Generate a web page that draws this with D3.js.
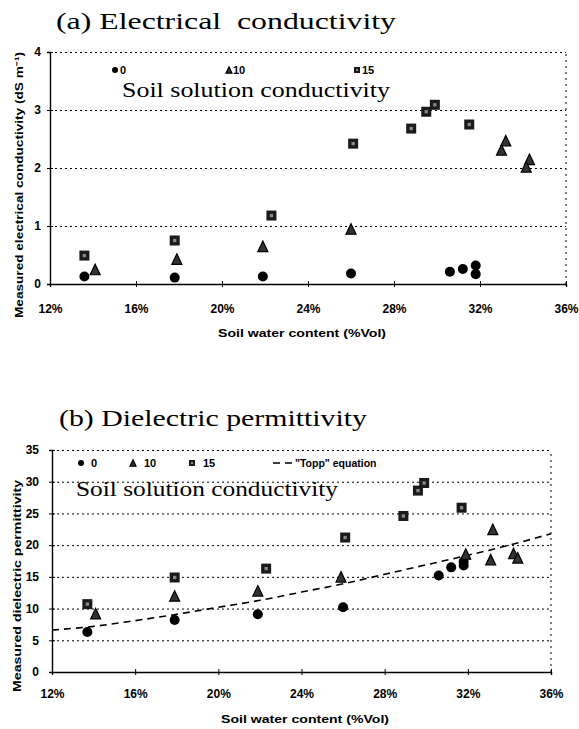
<!DOCTYPE html>
<html><head><meta charset="utf-8">
<script src="https://cdn.jsdelivr.net/npm/d3@7"></script>
<style>body{margin:0;background:#fff}</style>
</head><body>
<svg id="c" width="579" height="729" xmlns="http://www.w3.org/2000/svg"></svg>
<script>
// ---------- DATA ----------
const xTicks = [12, 16, 20, 24, 28, 32, 36];
const ecTicks = [0, 1, 2, 3, 4];
const epTicks = [0, 5, 10, 15, 20, 25, 30, 35];
const seriesNames = ["0", "10", "15"];

// (a) electrical conductivity
const ecX0 = [13.6, 17.8, 21.9, 26.0, 30.6, 31.2, 31.8, 31.8];
const ecY0 = [0.13, 0.11, 0.13, 0.18, 0.21, 0.26, 0.32, 0.17];
const ecX10 = [14.1, 17.9, 21.9, 26.0, 33.2, 33.0, 34.3, 34.15];
const ecY10 = [0.25, 0.43, 0.65, 0.95, 2.47, 2.31, 2.15, 2.02];
const ecX15 = [13.6, 17.8, 22.3, 26.1, 28.8, 29.5, 29.9, 31.5];
const ecY15 = [0.49, 0.75, 1.18, 2.42, 2.68, 2.97, 3.09, 2.75];

// (b) dielectric permittivity
const epX0 = [13.7, 17.9, 21.9, 26.0, 30.6, 31.2, 31.8, 31.8];
const epY0 = [6.3, 8.2, 9.1, 10.2, 15.2, 16.5, 17.4, 16.8];
const epX10 = [14.1, 17.9, 21.9, 25.9, 31.9, 33.2, 33.1, 34.2, 34.4];
const epY10 = [9.2, 12.0, 12.8, 15.0, 18.6, 22.5, 17.7, 18.7, 18.0];
const epX15 = [13.7, 17.9, 22.3, 26.1, 28.9, 29.6, 29.9, 31.7];
const epY15 = [10.7, 14.9, 16.3, 21.2, 24.6, 28.6, 29.8, 25.9];

// "Topp" equation curve
const toppX = [12, 14, 16, 18, 20, 22, 24, 26, 28, 30, 32, 34, 36];
const toppY = [6.6, 7.2, 8.1, 9.1, 10.2, 11.3, 12.6, 13.9, 15.4, 16.9, 18.4, 20.0, 21.8];

// ---------- DRAWING ----------
const svg = d3.select("#c");
const SANS = "'Liberation Sans', Arial, sans-serif";
const SERIF = "'Liberation Serif', 'Times New Roman', serif";
const zip = (xs, ys) => xs.map((x, i) => ({x, y: ys[i]}));

function drawMarker(g, type, cx, cy, s) {
  if (type === 0) {
    g.append("circle").attr("cx", cx).attr("cy", cy).attr("r", s / 2).attr("fill", "#000");
  } else if (type === 1) {
    const h = s * 1.05;
    g.append("path")
      .attr("d", `M${cx},${cy - h / 2}L${cx + s / 2},${cy + h / 2}L${cx - s / 2},${cy + h / 2}Z`)
      .attr("fill", "#333").attr("stroke", "#000").attr("stroke-width", 1.2);
  } else {
    g.append("rect").attr("x", cx - s / 2).attr("y", cy - s / 2).attr("width", s).attr("height", s)
      .attr("fill", "#1a1a1a");
    g.append("rect").attr("x", cx - s / 6).attr("y", cy - s / 6).attr("width", s / 3).attr("height", s / 3)
      .attr("fill", "#888");
  }
}

function panel(cfg) {
  const x = d3.scaleLinear().domain([12, 36]).range([cfg.x0, cfg.x1]);
  const y = d3.scaleLinear().domain(cfg.yDomain).range([cfg.y0, cfg.y1]);
  const g = svg.append("g");

  // grid lines (dotted)
  g.append("g").attr("transform", `translate(${cfg.x0},0)`)
    .call(d3.axisLeft(y).tickValues(cfg.yTicks.slice(1)).tickSize(-(cfg.x1 - cfg.x0)).tickFormat(""))
    .call(a => a.select(".domain").remove())
    .call(a => a.selectAll("line").attr("stroke", "#000").attr("stroke-width", 1).attr("stroke-dasharray", "2,3"));
  // right border dotted
  g.append("line").attr("x1", cfg.x1).attr("x2", cfg.x1).attr("y1", cfg.y0).attr("y2", cfg.y1)
    .attr("stroke", "#000").attr("stroke-dasharray", "2,4");

  // x axis
  g.append("g").attr("transform", `translate(0,${cfg.y0})`)
    .call(d3.axisBottom(x).tickValues(xTicks).tickSize(3).tickPadding(cfg.xPad).tickFormat(d => d + "%"))
    .call(a => a.select(".domain").attr("stroke-width", 1.4))
    .call(a => a.selectAll(".tick line").attr("y1", -3))
    .call(a => a.selectAll("text").attr("font-family", SANS).attr("font-weight", "bold")
      .attr("font-size", 12).attr("fill", "#000"));
  // y axis
  g.append("g").attr("transform", `translate(${cfg.x0},0)`)
    .call(d3.axisLeft(y).tickValues(cfg.yTicks).tickSize(3).tickPadding(cfg.yPad).tickFormat(d3.format("d")))
    .call(a => a.select(".domain").attr("stroke-width", 1.4))
    .call(a => a.selectAll(".tick line").attr("x1", 3))
    .call(a => a.selectAll("text").attr("font-family", SANS).attr("font-weight", "bold")
      .attr("font-size", 12).attr("fill", "#000"));

  // axis titles
  g.append("text").attr("x", cfg.xTitleCX).attr("y", cfg.xTitleY)
    .attr("text-anchor", "middle").attr("font-family", SANS).attr("font-weight", "bold")
    .attr("font-size", 11).attr("textLength", 168).attr("lengthAdjust", "spacingAndGlyphs")
    .text("Soil water content (%Vol)");
  g.append("text").attr("transform", `translate(${cfg.yTitleX},${cfg.yTitleCY}) rotate(-90)`)
    .attr("text-anchor", "middle").attr("font-family", SANS).attr("font-weight", "bold")
    .attr("font-size", 10.5).attr("textLength", cfg.yTitleLen).attr("lengthAdjust", "spacingAndGlyphs")
    .text(cfg.yTitle);

  // title
  g.append("text").attr("x", cfg.titleX).attr("y", cfg.titleY).attr("font-family", SERIF)
    .attr("font-size", 23).attr("textLength", cfg.titleLen).attr("lengthAdjust", "spacingAndGlyphs")
    .attr("xml:space", "preserve").style("white-space", "pre").text(cfg.title);
  // sub title
  g.append("text").attr("x", cfg.subX).attr("y", cfg.subY).attr("font-family", SERIF)
    .attr("font-size", 21).attr("textLength", cfg.subLen).attr("lengthAdjust", "spacingAndGlyphs")
    .text("Soil solution conductivity");

  // topp line
  if (cfg.topp) {
    g.append("path").datum(zip(toppX, toppY))
      .attr("d", d3.line().x(d => x(d.x)).y(d => y(d.y)).curve(d3.curveMonotoneX))
      .attr("fill", "none").attr("stroke", "#000").attr("stroke-width", 1.6).attr("stroke-dasharray", "7,5");
  }

  // points
  const pg = g.append("g");
  cfg.series.forEach((s, k) => {
    zip(s[0], s[1]).forEach(d => drawMarker(pg, k, x(d.x), y(d.y), cfg.mSize[k]));
  });

  // legend
  const lg = g.append("g");
  cfg.legend.forEach((L, k) => {
    drawMarker(lg, k, L.mx, cfg.legY, 6);
    lg.append("text").attr("x", L.tx).attr("y", cfg.legY + 4).attr("font-family", SANS)
      .attr("font-weight", "bold").attr("font-size", 11).text(seriesNames[k]);
  });
  if (cfg.topp) {
    lg.append("line").attr("x1", 273).attr("x2", 292).attr("y1", cfg.legY).attr("y2", cfg.legY)
      .attr("stroke", "#000").attr("stroke-width", 1.6).attr("stroke-dasharray", "7,5");
    lg.append("text").attr("x", 295).attr("y", cfg.legY + 4).attr("font-family", SANS)
      .attr("font-weight", "bold").attr("font-size", 10.5).text("\"Topp\" equation");
  }
}

panel({
  x0: 50, x1: 566, y0: 284, y1: 52, yDomain: [0, 4], yTicks: ecTicks,
  xPad: 17, yPad: 6, xTitleY: 337, xTitleCX: 302, yTitleX: 23, yTitleCY: 185, yTitleLen: 266,
  yTitle: "Measured electrical conductivity (dS m\u207B\u00B9)",
  title: "(a) Electrical  conductivity", titleX: 56, titleY: 29, titleLen: 340,
  subX: 122, subY: 97, subLen: 268,
  series: [[ecX0, ecY0], [ecX10, ecY10], [ecX15, ecY15]], mSize: [10, 10, 10],
  legY: 70, legend: [{mx: 115, tx: 120}, {mx: 229, tx: 233}, {mx: 357, tx: 362}],
  topp: false
});

panel({
  x0: 52, x1: 551, y0: 672, y1: 450, yDomain: [0, 35], yTicks: epTicks,
  xPad: 14, yPad: 10, xTitleY: 723, xTitleCX: 305, yTitleX: 21, yTitleCY: 586, yTitleLen: 212,
  yTitle: "Measured dielectric permittivity",
  title: "(b) Dielectric permittivity", titleX: 59, titleY: 426, titleLen: 308,
  subX: 76, subY: 496, subLen: 262,
  series: [[epX0, epY0], [epX10, epY10], [epX15, epY15]], mSize: [10, 10, 10],
  legY: 463, legend: [{mx: 81, tx: 91}, {mx: 133, tx: 144}, {mx: 192, tx: 203}],
  topp: true
});
</script>
</body></html>
